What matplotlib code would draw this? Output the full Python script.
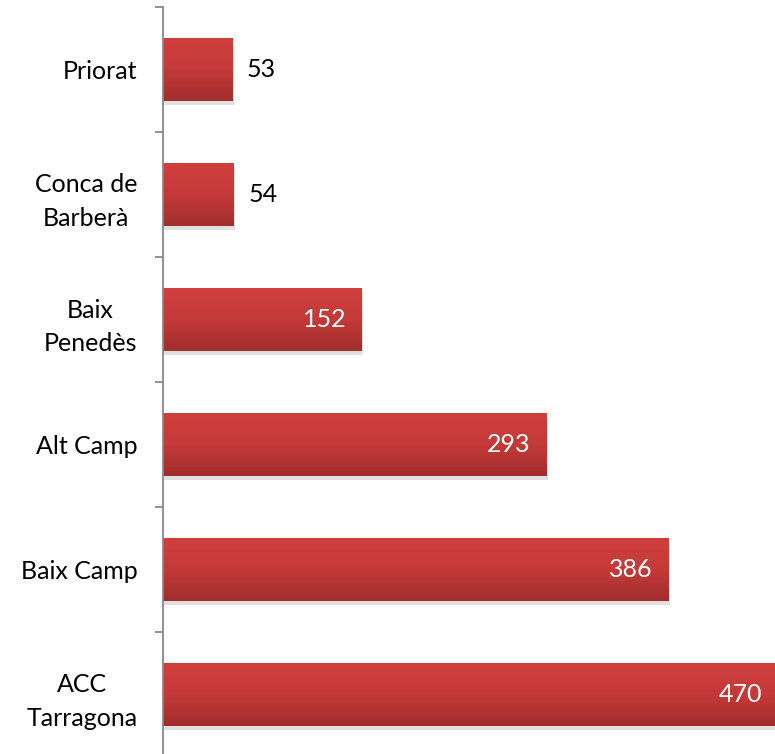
import numpy as np
import matplotlib
matplotlib.use("Agg")
import matplotlib.pyplot as plt
import matplotlib.patheffects as pe
from matplotlib.colors import LinearSegmentedColormap

# data
comarques = ["Priorat", "Conca de\nBarberà", "Baix\nPenedès", "Alt Camp", "Baix Camp", "ACC\nTarragona"]
valors = [53, 54, 152, 293, 386, 470]

plt.rcParams['font.family'] = ['Lato', 'DejaVu Sans']

fig = plt.figure(figsize=(7.75, 7.54), dpi=100)
ax = fig.add_axes([163 / 775, -3 / 754, 1 - 163 / 775, 750 / 754])

pos = np.arange(len(comarques))[::-1]
bars = ax.barh(pos, valors, height=0.5, color="#b83533",
               path_effects=[pe.SimplePatchShadow(offset=(1, -3), alpha=0.18, shadow_rgbFace="#555555"), pe.Normal()])

# vertical gradient on each bar
cmap = LinearSegmentedColormap.from_list("rojo", ["#a12d2c", "#c43a38", "#d03f3d"])
grad = np.linspace(0, 1, 256).reshape(-1, 1)
for b in bars:
    x0, y0 = b.get_x(), b.get_y()
    im = ax.imshow(grad, cmap=cmap, aspect="auto", origin="lower",
                   extent=[x0, x0 + b.get_width(), y0, y0 + b.get_height()], zorder=3)
    im.set_clip_path(b)

ax.set_xlim(0, 467.5)
ax.set_ylim(-0.5, len(comarques) - 0.5)

# value labels
for p, v in zip(pos, valors):
    if v < 100:
        ax.text(v + 11, p, str(v), va="center", ha="left", fontsize=18, color="black", zorder=4)
    else:
        ax.text(v - 12, p, str(v), va="center", ha="right", fontsize=18, color="white", zorder=4)

ax.set_yticks(pos)
ax.set_yticklabels(comarques, fontsize=18, multialignment="center", linespacing=1.55)
ax.set_yticks(np.arange(len(comarques) + 1) - 0.5, minor=True)
ax.tick_params(axis="y", which="major", length=0, pad=18.5)
ax.tick_params(axis="y", which="minor", length=6, width=1.3, color="#888888")
ax.set_xticks([])

for s in ["top", "right", "bottom"]:
    ax.spines[s].set_visible(False)
ax.spines["left"].set_color("#888888")
ax.spines["left"].set_linewidth(1.3)
ax.spines["left"].set_zorder(5)

fig.savefig("out.png", dpi=100)
